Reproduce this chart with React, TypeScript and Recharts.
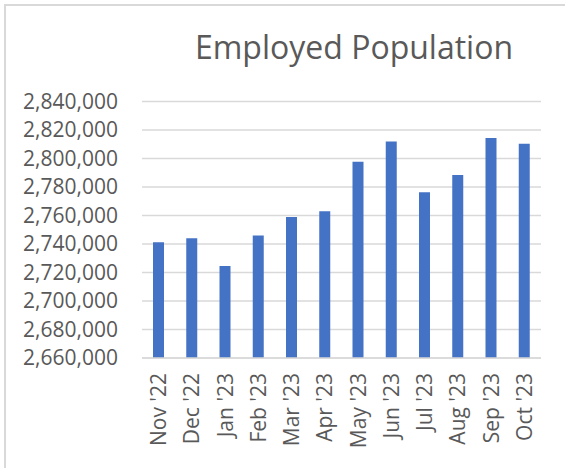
import React from 'react';
import { BarChart, Bar, XAxis, YAxis, CartesianGrid } from 'recharts';

const months = ["Nov '22", "Dec '22", "Jan '23", "Feb '23", "Mar '23", "Apr '23", "May '23", "Jun '23", "Jul '23", "Aug '23", "Sep '23", "Oct '23"];
const employed = [2741200, 2744000, 2724500, 2746000, 2759000, 2763000, 2797800, 2812000, 2776300, 2788400, 2814400, 2810400];
const yTicks = [2660000, 2680000, 2700000, 2720000, 2740000, 2760000, 2780000, 2800000, 2820000, 2840000];

const data = months.map((m, i) => ({ month: m, value: employed[i] }));

const FONT = '"Open Sans", Calibri, sans-serif';
const TEXT = '#595959';

const MonthTick = (props: any) => {
  const { x, y, payload } = props;
  return (
    <g transform={`translate(${x},${y})`}>
      <text
        transform="rotate(-90)"
        x={-15}
        y={0}
        dy="0.36em"
        textAnchor="end"
        fill={TEXT}
        fontSize={21}
        fontFamily={FONT}
      >
        {payload.value}
      </text>
    </g>
  );
};

export default function App() {
  return (
    <div style={{ position: 'absolute', left: 0, top: 0, width: 565, height: 468, background: '#fff', overflow: 'hidden' }}>
      <div
        style={{
          position: 'absolute',
          left: 4,
          top: 4,
          width: 600,
          height: 500,
          borderLeft: '2px solid #d9d9d9',
          borderTop: '2px solid #d9d9d9',
        }}
      />
      <svg width={565} height={80} style={{ position: 'absolute', left: 0, top: 0 }}>
        <text x={354} y={59} textAnchor="middle" fill={TEXT} fontSize={32} fontFamily={FONT}>
          Employed Population
        </text>
      </svg>
      <div style={{ position: 'absolute', left: 0, top: 0 }}>
        <BarChart
          width={565}
          height={468}
          data={data}
          margin={{ top: 101.5, right: 24, left: 0, bottom: 0 }}
        >
          <CartesianGrid vertical={false} stroke="#d9d9d9" strokeWidth={1.4} />
          <XAxis
            dataKey="month"
            height={110}
            tickLine={false}
            tickSize={0}
            tickMargin={0}
            axisLine={{ stroke: '#d9d9d9', strokeWidth: 1.4 }}
            interval={0}
            tick={<MonthTick />}
          />
          <YAxis
            width={142}
            domain={[2660000, 2840000]}
            ticks={yTicks}
            interval={0}
            axisLine={false}
            tickLine={false}
            tickSize={0}
            tickMargin={24}
            tick={{ fill: TEXT, fontSize: 21, fontFamily: FONT }}
            tickFormatter={(v: number) => v.toLocaleString('en-US')}
          />
          <Bar dataKey="value" fill="#4472C4" barSize={11} isAnimationActive={false} />
        </BarChart>
      </div>
    </div>
  );
}
